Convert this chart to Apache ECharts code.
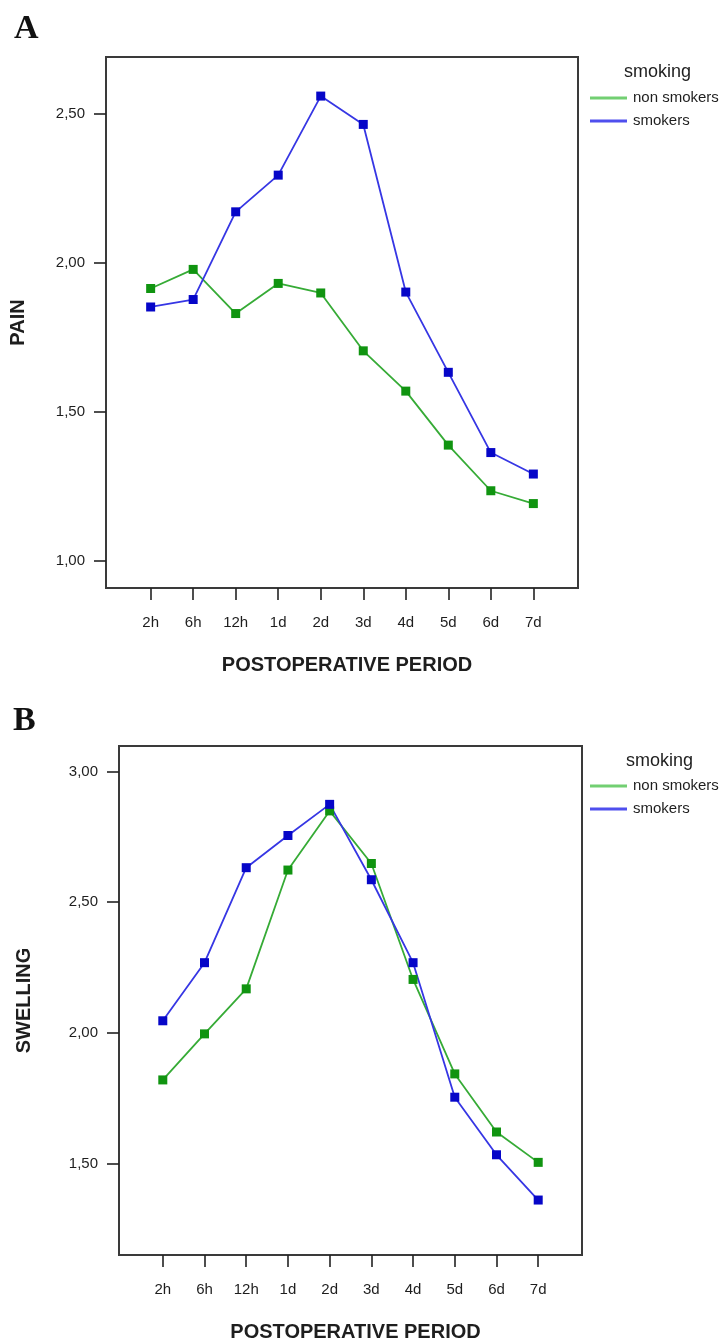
<!DOCTYPE html>
<html>
<head>
<meta charset="utf-8">
<script src="https://cdn.jsdelivr.net/npm/echarts@6/dist/echarts.min.js"></script>
<style>
html,body{margin:0;padding:0;background:#fff;}
#c{width:728px;height:1343px;}
</style>
</head>
<body>
<div id="c"></div>
<script>
const categories = ['2h','6h','12h','1d','2d','3d','4d','5d','6d','7d'];
const painNonSmokers = [1.914, 1.978, 1.830, 1.931, 1.899, 1.705, 1.570, 1.389, 1.236, 1.193];
const painSmokers    = [1.852, 1.877, 2.171, 2.294, 2.559, 2.464, 1.902, 1.633, 1.364, 1.292];
const swellingNonSmokers = [1.821, 1.997, 2.169, 2.623, 2.849, 2.648, 2.205, 1.844, 1.622, 1.506];
const swellingSmokers    = [2.047, 2.269, 2.632, 2.755, 2.874, 2.586, 2.269, 1.755, 1.535, 1.362];
const painTicks = [1.0, 1.5, 2.0, 2.5];
const swellingTicks = [1.5, 2.0, 2.5, 3.0];
const seriesNames = ['non smokers', 'smokers'];

const GREEN_LINE = '#36ab36', GREEN_MARK = '#109410';
const BLUE_LINE = '#3636e4', BLUE_MARK = '#0606c8';
const TXT = '#1e1e1e';
const FONT = 'Liberation Sans, Arial, sans-serif';

const idx = categories.map((c, i) => i);
const fmt = v => v.toFixed(2).replace('.', ',');

function xAxisFor(gridIndex) {
  return {
    type: 'value', gridIndex, min: -1.05, max: 10.05,
    axisLine: { show: false, onZero: false },
    splitLine: { show: false },
    axisTick: { show: true, customValues: idx, length: 12, inside: false,
      lineStyle: { color: '#222', width: 1.6 } },
    axisLabel: { customValues: idx, formatter: v => categories[Math.round(v)] || '',
      margin: 27, color: TXT, fontSize: 15, fontFamily: FONT },
    name: 'POSTOPERATIVE PERIOD', nameLocation: 'middle', nameGap: 67,
    nameTextStyle: { fontSize: 20, fontWeight: 'bold', color: TXT, fontFamily: FONT, padding: [0, 0, 0, 10] }
  };
}
function yAxisFor(gridIndex, min, max, ticks, name, gap) {
  return {
    type: 'value', gridIndex, min, max,
    axisLine: { show: false, onZero: false },
    splitLine: { show: false },
    axisTick: { show: true, customValues: ticks, length: 12, inside: false,
      lineStyle: { color: '#222', width: 1.6 } },
    axisLabel: { customValues: ticks, formatter: fmt, margin: 21,
      color: TXT, fontSize: 15, fontFamily: FONT },
    name, nameLocation: 'middle', nameRotate: 90, nameGap: gap,
    nameTextStyle: { fontSize: 20, fontWeight: 'bold', color: TXT, fontFamily: FONT }
  };
}
function lineSeries(name, values, axisIdx, lineColor, markColor) {
  return {
    name, type: 'line', xAxisIndex: axisIdx, yAxisIndex: axisIdx,
    data: values.map((v, i) => [i, v]),
    symbol: 'rect', symbolSize: 9,
    lineStyle: { color: lineColor, width: 1.8 },
    itemStyle: { color: markColor },
    emphasis: { disabled: true },
    animation: false
  };
}
function legendFor(top) {
  return {
    orient: 'vertical', left: 590, top, padding: 0,
    icon: 'rect', itemWidth: 37, itemHeight: 3, itemGap: 7,
    textStyle: { fontSize: 15, color: TXT, fontFamily: FONT, lineHeight: 16, padding: [0, 0, 0, 1] },
    selectedMode: false,
    data: [
      { name: seriesNames[0], itemStyle: { color: '#72cf72' } },
      { name: seriesNames[1], itemStyle: { color: '#4f4fee' } }
    ]
  };
}

const chart = echarts.init(document.getElementById('c'), null, { renderer: 'canvas' });
chart.setOption({
  backgroundColor: '#fff',
  animation: false,
  title: [
    { text: 'A', left: 14, top: 12, padding: 0,
      textStyle: { fontFamily: 'Liberation Serif, Times New Roman, serif', fontWeight: 'bold', fontSize: 34, color: '#111' } },
    { text: 'B', left: 13, top: 704, padding: 0,
      textStyle: { fontFamily: 'Liberation Serif, Times New Roman, serif', fontWeight: 'bold', fontSize: 34, color: '#111' } },
    { text: 'smoking', left: 624, top: 63, padding: 0,
      textStyle: { fontFamily: FONT, fontWeight: 'normal', fontSize: 18, color: TXT } },
    { text: 'smoking', left: 626, top: 752, padding: 0,
      textStyle: { fontFamily: FONT, fontWeight: 'normal', fontSize: 18, color: TXT } }
  ],
  legend: [ legendFor(90), legendFor(778) ],
  grid: [
    { left: 102, top: 57, width: 476, height: 531, show: true, borderColor: '#3a3a3a', borderWidth: 2, backgroundColor: 'transparent' },
    { left: 119, top: 746, width: 463, height: 517, show: true, borderColor: '#3a3a3a', borderWidth: 2, backgroundColor: 'transparent' }
  ],
  xAxis: [ xAxisFor(0), xAxisFor(1) ],
  yAxis: [
    yAxisFor(0, 0.91, 2.69, painTicks, 'PAIN', 78),
    yAxisFor(1, 1.152, 3.097, swellingTicks, 'SWELLING', 85)
  ],
  series: [
    lineSeries(seriesNames[0], painNonSmokers, 0, GREEN_LINE, GREEN_MARK),
    lineSeries(seriesNames[1], painSmokers, 0, BLUE_LINE, BLUE_MARK),
    lineSeries(seriesNames[0], swellingNonSmokers, 1, GREEN_LINE, GREEN_MARK),
    lineSeries(seriesNames[1], swellingSmokers, 1, BLUE_LINE, BLUE_MARK)
  ]
});
</script>
</body>
</html>
